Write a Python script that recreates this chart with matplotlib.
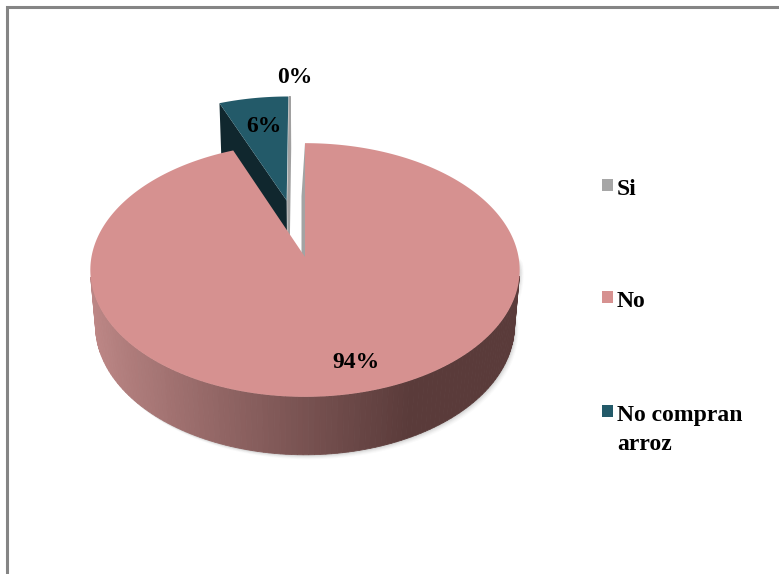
import numpy as np
import matplotlib
matplotlib.use("Agg")
import matplotlib.pyplot as plt
from matplotlib.patches import Polygon, Rectangle
from matplotlib.lines import Line2D

# ---- data ----
categories = ["Si", "No", "No compran arroz"]
values = [0, 94, 6]
legend_labels = ["Si", "No", "No compran\narroz"]
top_colors = ["#A6A6A6", "#D69190", "#235A69"]
explode = [0.0, 0.0, 0.48]

# ---- 3D pie geometry (pixel space) ----
ELEV = np.radians(36.0)
CA, SA = np.cos(ELEV), np.sin(ELEV)
DIST = 7.90
FOCAL = 1687.0
CX, CY = 305.0, 257.0
THICK = 0.329

FONT = "Liberation Serif"
FSIZE = 17


def project(x, y, z):
    yc = y * CA - z * SA
    zc = DIST - (y * SA + z * CA)
    return CX + FOCAL * x / zc, CY - FOCAL * yc / zc


def disk_pt(theta, r, y, off):
    return project(off[0] + r * np.cos(theta), y, off[1] - r * np.sin(theta))


def lerp_color(c1, c2, t):
    a = np.array(matplotlib.colors.to_rgb(c1))
    b = np.array(matplotlib.colors.to_rgb(c2))
    return tuple(a + (b - a) * t)


fig = plt.figure(figsize=(7.79, 5.74), dpi=100)
ax = fig.add_axes([0, 0, 1, 1])
ax.set_xlim(0, 779)
ax.set_ylim(574, 0)
ax.axis("off")

# chart frame
ax.add_line(Line2D([7.5, 7.5, 779], [574, 7, 7], color="#858585", lw=2.2,
                   solid_joinstyle="miter"))

# slice angles, clockwise from 12 o'clock
total = float(sum(values))
bounds = []
start = np.pi / 2
for v in values:
    sweep = 2 * np.pi * v / total
    bounds.append((start - sweep, start))
    start -= sweep

offsets = []
for (a0, a1), e in zip(bounds, explode):
    mid = 0.5 * (a0 + a1)
    offsets.append((e * np.cos(mid), -e * np.sin(mid)))

# soft drop shadow along the front wall
i_no = 1
a0, a1 = bounds[i_no]
ths = np.linspace(np.pi, 2 * np.pi, 200)
bot = [disk_pt(t, 1.0, -THICK, offsets[i_no]) for t in ths]
topf = [disk_pt(t, 1.0, 0.0, offsets[i_no]) for t in ths[::-1]]
sil = np.array(bot + topf)
for k, a in zip(range(1, 6), [0.10, 0.08, 0.06, 0.04, 0.03]):
    ax.add_patch(Polygon(sil + np.array([k * 0.8, k * 0.9]), closed=True,
                         fc="#606060", ec="none", alpha=a, zorder=1))

# ---- exploded small slice (drawn first: it sits behind) ----
i_t = 2
t12, tl = bounds[i_t]          # t12: 12 o'clock edge, tl: left edge
off = offsets[i_t]
# thin 12 o'clock radial face
face_r = [disk_pt(t12, 0, 0, off), disk_pt(t12, 1, 0, off),
          disk_pt(t12, 1, -THICK, off), disk_pt(t12, 0, -THICK, off)]
ax.add_patch(Polygon(np.array(face_r) + [1.5, 0], closed=True, fc="#A0A0A0",
                     ec="#A0A0A0", lw=1.5, zorder=2))
# left radial face (dark)
face_l = [disk_pt(tl, 0, 0, off), disk_pt(tl, 1, 0, off),
          disk_pt(tl, 1, -THICK, off), disk_pt(tl, 0, -THICK, off)]
ax.add_patch(Polygon(face_l, closed=True, fc="#10272E", ec="none", zorder=3))
# top face
arc = [disk_pt(t, 1, 0, off) for t in np.linspace(t12, tl, 40)]
ax.add_patch(Polygon([disk_pt(0, 0, 0, off)] + arc, closed=True,
                     fc=top_colors[i_t], ec="none", zorder=4))

# ---- zero slice: edge sliver along 12 o'clock ----
s_top_in = project(0, 0, 0)
s_top_out = project(0, 0, -1)
s_bot_out = project(0, -THICK, -1)
s_bot_in = project(0, -THICK, 0)
sliver = np.array([s_top_in, s_top_out,
                   (s_bot_out[0] - 3.5, s_bot_out[1]),
                   (s_bot_in[0] - 3.5, s_bot_in[1])])
ax.add_patch(Polygon(sliver, closed=True, fc="#A3A3A3", ec="none", zorder=5))

# ---- main slice ----
off = offsets[i_no]
# outer wall, front-facing strips only, shaded left to right
n = 240
thw = np.linspace(a0, a1, n + 1)
for ta, tb in zip(thw[:-1], thw[1:]):
    tm = 0.5 * (ta + tb)
    if -np.sin(tm) * DIST * CA - 1 <= 0:
        continue
    quad = [disk_pt(ta, 1, 0, off), disk_pt(tb, 1, 0, off),
            disk_pt(tb, 1, -THICK, off), disk_pt(ta, 1, -THICK, off)]
    xm = np.mean([q[0] for q in quad])
    t = np.clip((xm - 95) / (410 - 95), 0, 1) ** 0.9
    c = lerp_color("#BD8786", "#5A3B3A", t)
    ax.add_patch(Polygon(quad, closed=True, fc=c, ec=c, lw=0.6, zorder=6))

arc = [disk_pt(t, 1, 0, off) for t in np.linspace(a0, a1, 400)]
ax.add_patch(Polygon([disk_pt(0, 0, 0, off)] + arc, closed=True,
                     fc=top_colors[i_no], ec="none", zorder=7))

# ---- data labels (baseline anchored) ----
label_pos = [(295, 83), (356, 368), (264, 132)]
for v, (lx, ly) in zip(values, label_pos):
    ax.text(lx, ly, f"{v}%", ha="center", va="baseline", fontsize=FSIZE,
            fontweight="bold", family=FONT, color="black", zorder=10)

# ---- legend ----
leg_base = [195, 307, 421]
line_gap = 29
for lab, col, yb in zip(legend_labels, top_colors, leg_base):
    ax.add_patch(Rectangle((602, yb - 16), 11, 12, fc=col, ec="none",
                           zorder=10))
    for j, line in enumerate(lab.split("\n")):
        ax.text(617, yb + j * line_gap, line, ha="left", va="baseline",
                fontsize=FSIZE, fontweight="bold", family=FONT,
                color="black", zorder=10)

fig.savefig("out.png", dpi=100)
